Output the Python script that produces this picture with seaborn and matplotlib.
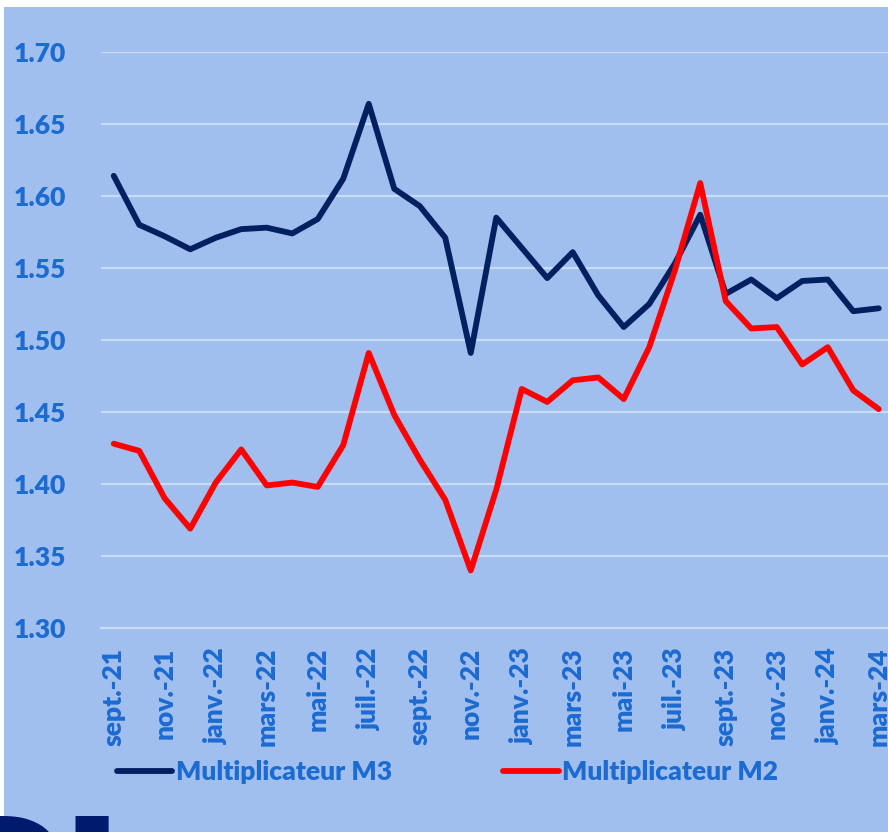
import matplotlib
matplotlib.use("Agg")
import matplotlib.pyplot as plt
import numpy as np
import pandas as pd
import seaborn as sns
from matplotlib.patches import Rectangle

months = ["sept.-21", "oct.-21", "nov.-21", "déc.-21", "janv.-22", "févr.-22",
          "mars-22", "avr.-22", "mai-22", "juin-22", "juil.-22", "août-22",
          "sept.-22", "oct.-22", "nov.-22", "déc.-22", "janv.-23", "févr.-23",
          "mars-23", "avr.-23", "mai-23", "juin-23", "juil.-23", "août-23",
          "sept.-23", "oct.-23", "nov.-23", "déc.-23", "janv.-24", "févr.-24",
          "mars-24"]

m3 = [1.614, 1.580, 1.572, 1.563, 1.571, 1.577, 1.578, 1.574, 1.584, 1.612,
      1.664, 1.605, 1.593, 1.571, 1.491, 1.585, 1.564, 1.543, 1.561, 1.531,
      1.509, 1.525, 1.553, 1.587, 1.532, 1.542, 1.529, 1.541, 1.542, 1.520,
      1.522]

m2 = [1.428, 1.423, 1.390, 1.369, 1.401, 1.424, 1.399, 1.401, 1.398, 1.427,
      1.491, 1.448, 1.417, 1.389, 1.340, 1.396, 1.466, 1.457, 1.472, 1.474,
      1.459, 1.495, 1.548, 1.609, 1.527, 1.508, 1.509, 1.483, 1.495, 1.465,
      1.452]

series_names = ["Multiplicateur M3", "Multiplicateur M2"]
y_ticks = [1.30, 1.35, 1.40, 1.45, 1.50, 1.55, 1.60, 1.65, 1.70]

BG = "#a0bfee"
GRID = "#c9dbf6"
TXT = "#1c6bd0"
FS = 19
colors = {series_names[0]: "#002060", series_names[1]: "#ff0000"}

df = pd.DataFrame({
    "idx": list(range(len(months))) * 2,
    "value": m3 + m2,
    "serie": [series_names[0]] * len(m3) + [series_names[1]] * len(m2),
})

sns.set_style("white")
plt.rcParams['font.family'] = ['Lato', 'DejaVu Sans']

W, H = 888, 832
fig = plt.figure(figsize=(W / 100, H / 100), dpi=100)
fig.patch.set_facecolor("white")
fig.patches.append(Rectangle((4 / W, 0), 1, 1 - 7 / H, transform=fig.transFigure,
                             facecolor=BG, edgecolor="none", zorder=-10))

# plot area: 31 categories of 25.5 px starting at x=101
ax = fig.add_axes([101 / W, 1 - 628 / H, 31 * 25.5 / W, 576 / H])
ax.set_facecolor(BG)

sns.lineplot(data=df, x="idx", y="value", hue="serie", palette=colors,
             hue_order=series_names, linewidth=4.2, ax=ax, legend=False)
for ln in ax.lines:
    ln.set_solid_capstyle("round")
    ln.set_solid_joinstyle("round")

ax.set_xlim(-0.5, len(months) - 0.5)
ax.set_ylim(1.30, 1.70)
ax.set_yticks(y_ticks)
ax.set_yticklabels([f"{v:.2f}" for v in y_ticks])
ax.grid(axis="y", color=GRID, linewidth=1.6)
ax.set_axisbelow(True)

ax.set_xticks(range(0, len(months), 2))
ax.set_xticklabels(months[::2], rotation=90)
ax.set_xticks(np.arange(-0.5, len(months), 2), minor=True)
ax.tick_params(axis="x", which="major", length=0, pad=14)
ax.tick_params(axis="x", which="minor", length=6, width=1.6, color=GRID)
ax.tick_params(axis="y", length=0, pad=25)
for lab in ax.get_xticklabels() + ax.get_yticklabels():
    lab.set_color(TXT)
    lab.set_fontweight("heavy")
    lab.set_fontsize(FS)

for s in ["top", "right", "left"]:
    ax.spines[s].set_visible(False)
ax.spines["bottom"].set_color(GRID)
ax.spines["bottom"].set_linewidth(1.6)
ax.set_xlabel("")
ax.set_ylabel("")

handles = [plt.Line2D([], [], color=colors[n], linewidth=4.2, solid_capstyle="round")
           for n in series_names]
leg = fig.legend(handles, series_names, loc="center left",
                 bbox_to_anchor=(93 / W, 1 - 772 / H), ncol=2, frameon=False,
                 handlelength=2.1, handletextpad=0.15, columnspacing=4.2,
                 prop={"weight": "heavy", "size": FS})
for t in leg.get_texts():
    t.set_color(TXT)

# fragment of a large title cut by the bottom edge
fig.text(-62 / W, 1 - 812 / H, "PI", color="#001a6e", fontsize=140,
         fontweight="heavy", ha="left", va="top", family="Lato")

fig.savefig("out.png", dpi=100)
